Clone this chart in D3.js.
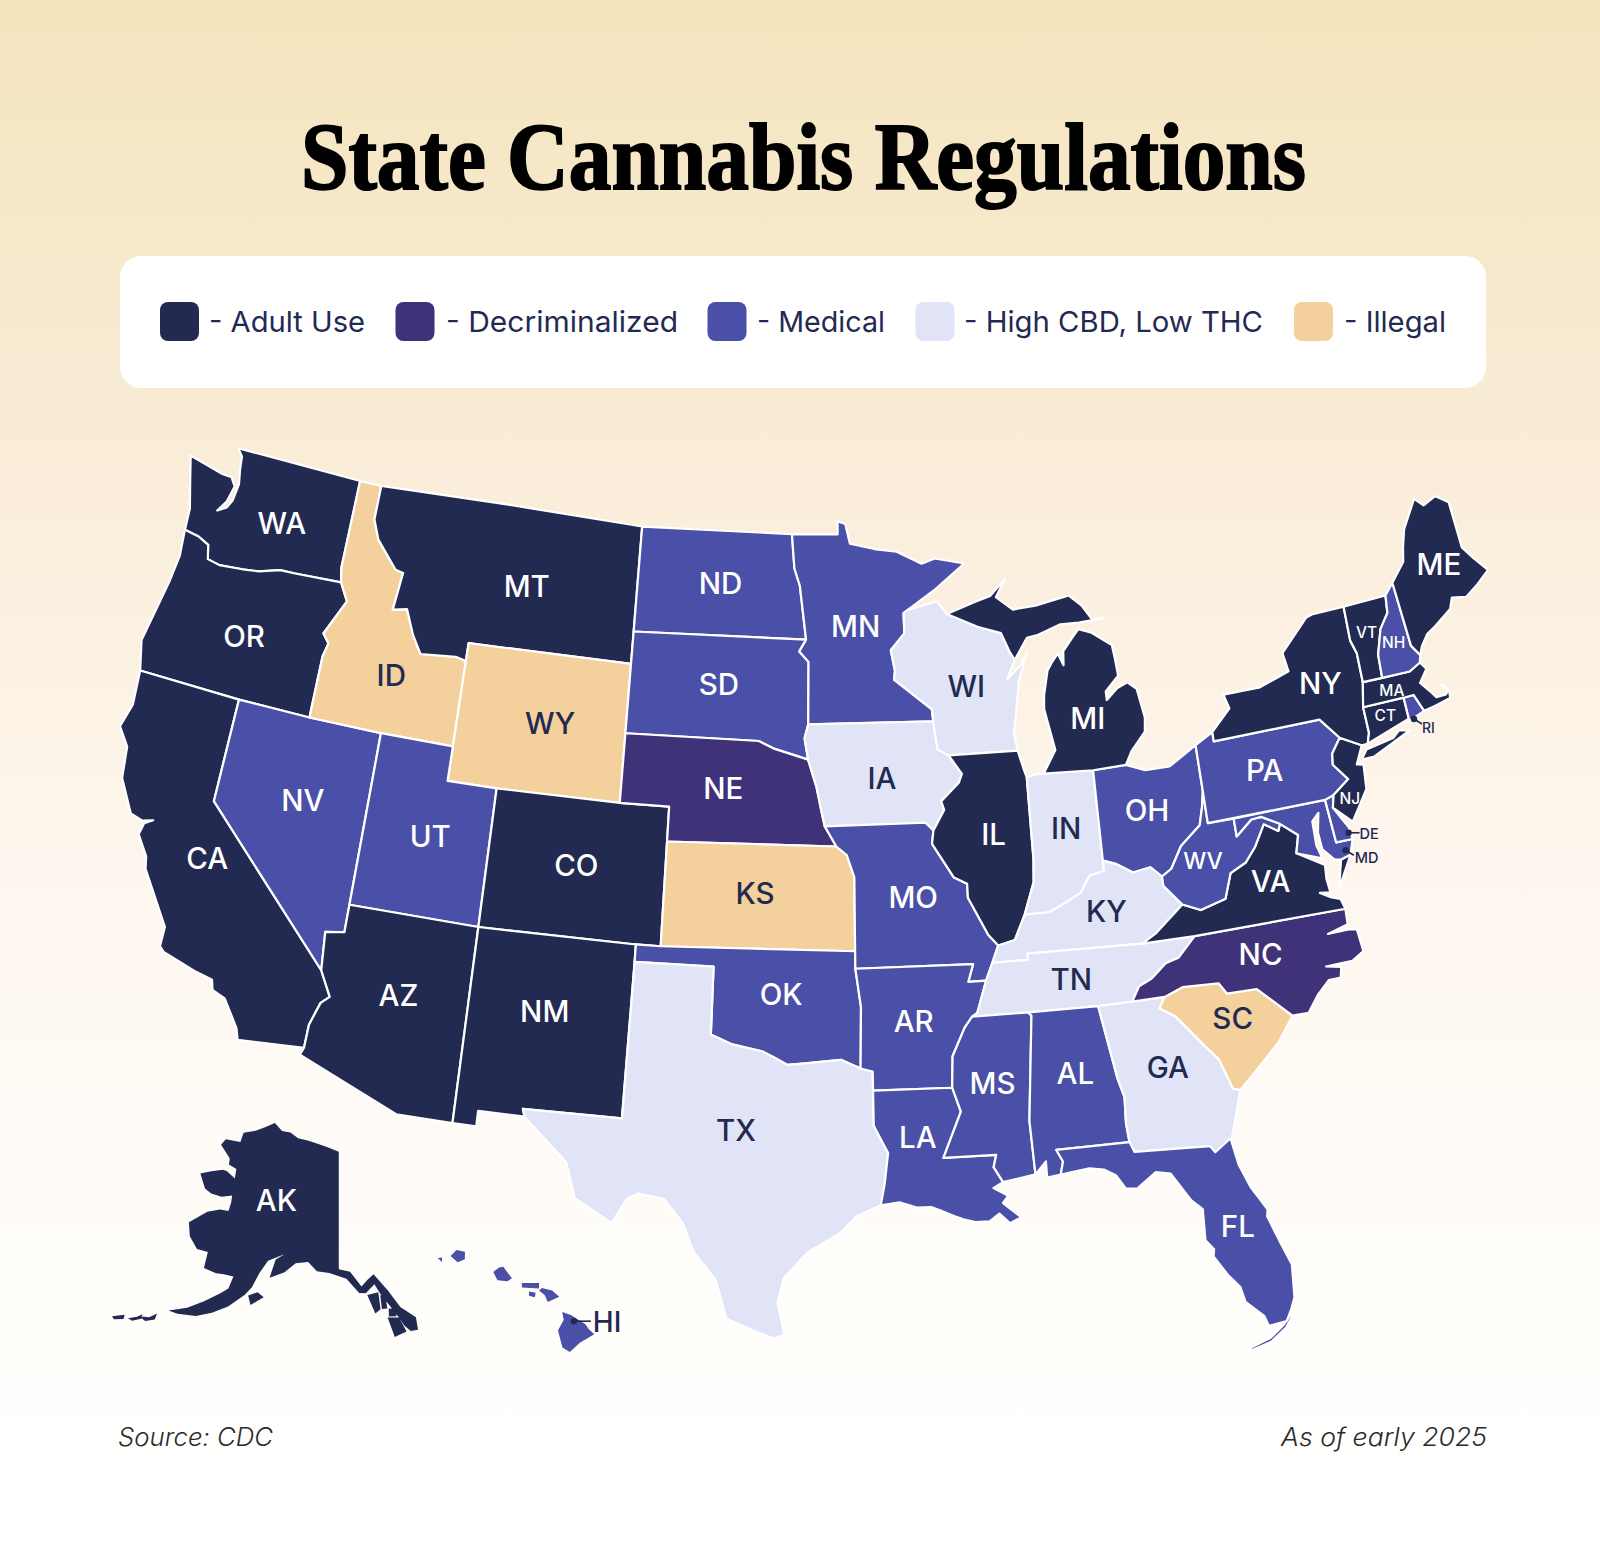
<!DOCTYPE html>
<html>
<head>
<meta charset="utf-8">
<script src="https://cdn.jsdelivr.net/npm/d3@7"></script>
<style>
	html, body { margin: 0; padding: 0; background: #fff; }
	svg { display: block; }
</style>
</head>
<body>
<svg id="chart"></svg>
<script>
var width = 1600,
	height = 1553;

// legend
const categories = ["Adult Use", "Decriminalized", "Medical", "High CBD, Low THC", "Illegal"];
const categoryColors = ["#222a52", "#3f3278", "#4a4fa8", "#e0e4f6", "#f4d09c"];

// state -> category index
const stateCodes = ["WA","OR","CA","NV","ID","MT","WY","UT","AZ","CO","NM","ND","SD","NE","KS","OK","TX","MN","IA","MO","AR","LA","WI","IL","IN","OH","MI","KY","TN","MS","AL","GA","FL","SC","NC","VA","WV","MD","DE","PA","NJ","NY","CT","RI","MA","VT","NH","ME","AK","HI"];
const stateCategory = [0,0,0,2,4,0,4,2,0,0,0,2,2,1,4,2,3,2,3,2,2,2,3,0,3,2,0,3,3,2,2,3,2,4,1,0,2,2,2,2,0,0,0,2,0,0,2,0,0,2];

// label anchors, lon/lat
const labelLon = [-120.03,-120.43,-119.73,-116.6,-114.05,-108.9,-107.2,-111.4,-111.65,-105.55,-106.2,-100.38,-100.26,-99.9,-98.5,-97.42,-98.97,-94.4,-93.42,-92.33,-92.48,-92.48,-89.75,-89.03,-86.13,-82.84,-84.78,-84.9,-86.5,-89.7,-86.68,-83.32,-81.64,-80.73,-79.33,-78.48,-80.93,-75.4,-75.15,-77.93,-74.82,-75.0,-72.7,-71.6,-72.2,-72.66,-71.64,-68.95,-152.9,-155.5];
const labelLat = [47.25,43.8,37.38,39.65,43.68,46.88,43.06,39.36,34.7,39.09,34.85,47.5,44.58,41.62,38.65,35.78,31.83,46.32,41.94,38.49,34.96,31.62,44.44,40.17,40.14,40.36,43.2,37.65,35.82,33.05,33.13,33.0,28.15,34.09,35.75,37.75,38.69,38.18,38.65,40.9,39.6,43.02,41.65,41.35,42.3,44.1,43.64,45.42,65.3,19.95];

// outlines, one list of rings per state
const outlineWA = [[[-117.03,49],[-122.76,49],[-122.5,48.8],[-122.42,48.4],[-122.3,48],[-122.38,47.5],[-122.55,47.25],[-122.92,47.08],[-122.62,47.42],[-122.46,47.9],[-122.7,48.13],[-123.2,48.15],[-124.73,48.38],[-124.4,47.6],[-124.1,46.9],[-124.05,46.27],[-123.4,46.2],[-122.9,46.05],[-122.75,45.65],[-122.2,45.58],[-121.2,45.65],[-120.5,45.72],[-119.6,45.92],[-119,45.93],[-116.92,46],[-117.04,46.42]]];
const outlineOR = [[[-124.05,46.27],[-123.95,45.5],[-124.07,44.7],[-124.5,42.85],[-124.2,42],[-120,42],[-117.03,42],[-117.03,43.8],[-116.9,44.2],[-117.2,44.45],[-116.5,45.5],[-116.92,46],[-119,45.93],[-119.6,45.92],[-120.5,45.72],[-121.2,45.65],[-122.2,45.58],[-122.75,45.65],[-122.9,46.05],[-123.4,46.2]]];
const outlineCA = [[[-124.2,42],[-120,42],[-120,39],[-114.63,35],[-114.14,34.3],[-114.43,34.08],[-114.7,33.4],[-114.72,32.72],[-117.12,32.53],[-117.25,32.85],[-117.9,33.6],[-118.4,33.75],[-118.5,34.03],[-119.2,34.15],[-120.47,34.45],[-120.65,34.58],[-120.65,35.15],[-121.9,36.6],[-122,36.95],[-122.5,37.5],[-122.4,37.85],[-122.1,38],[-122.5,37.9],[-123,38],[-123.7,38.9],[-123.85,39.8],[-124.35,40.3],[-124.1,41]]];
const outlineNV = [[[-120,42],[-117.03,42],[-114.04,42],[-114.04,37],[-114.04,36.2],[-114.75,36.1],[-114.63,35],[-120,39]]];
const outlineID = [[[-117.04,49],[-116.05,49],[-116.05,48],[-115.7,47.45],[-114.7,46.7],[-114.35,46.65],[-114.5,45.55],[-113.9,45.65],[-113.45,44.95],[-113,44.45],[-111.5,44.55],[-111.05,44.48],[-111.05,42],[-114.04,42],[-117.03,42],[-117.03,43.8],[-116.9,44.2],[-117.2,44.45],[-116.5,45.5],[-116.92,46],[-117.04,46.42]]];
const outlineMT = [[[-116.05,49],[-104.05,49],[-104.05,45.94],[-104.05,45],[-111.05,45],[-111.05,44.48],[-111.5,44.55],[-113,44.45],[-113.45,44.95],[-113.9,45.65],[-114.5,45.55],[-114.35,46.65],[-114.7,46.7],[-115.7,47.45],[-116.05,48]]];
const outlineWY = [[[-111.05,45],[-104.05,45],[-104.05,43],[-104.05,41],[-109.05,41],[-111.05,41]]];
const outlineUT = [[[-114.04,42],[-111.05,42],[-111.05,41],[-109.05,41],[-109.05,37],[-114.04,37]]];
const outlineAZ = [[[-114.72,32.72],[-114.82,32.5],[-111.07,31.33],[-109.05,31.33],[-109.05,37],[-114.04,37],[-114.04,36.2],[-114.75,36.1],[-114.63,35],[-114.14,34.3],[-114.43,34.08],[-114.7,33.4]]];
const outlineCO = [[[-109.05,41],[-104.05,41],[-102.05,41],[-102.05,40],[-102.05,37],[-103,37],[-109.05,37]]];
const outlineNM = [[[-109.05,37],[-103,37],[-103,36.5],[-103.06,32],[-106.62,32],[-106.53,31.78],[-108.2,31.78],[-108.2,31.33],[-109.05,31.33]]];
const outlineND = [[[-104.05,49],[-97.23,49],[-97.1,48],[-96.85,47.5],[-96.56,45.94],[-104.05,45.94]]];
const outlineSD = [[[-104.05,45.94],[-96.56,45.94],[-96.85,45.6],[-96.45,45.3],[-96.45,43.5],[-96.6,43.1],[-96.45,42.49],[-97.9,42.8],[-98.5,43],[-104.05,43]]];
const outlineNE = [[[-104.05,43],[-98.5,43],[-97.9,42.8],[-96.45,42.49],[-96.1,41.7],[-95.9,41],[-95.77,40.58],[-95.31,40],[-102.05,40],[-102.05,41],[-104.05,41]]];
const outlineKS = [[[-102.05,40],[-95.31,40],[-94.9,39.75],[-94.61,39.11],[-94.62,37],[-102.05,37]]];
const outlineOK = [[[-103,37],[-102.05,37],[-94.62,37],[-94.62,36.5],[-94.43,35.4],[-94.48,33.64],[-95.2,33.9],[-96.5,33.8],[-97.15,33.75],[-97.7,33.98],[-98.1,34.13],[-99.2,34.3],[-100,34.56],[-100,36.5],[-103,36.5]]];
const outlineTX = [[[-103,36.5],[-100,36.5],[-100,34.56],[-99.2,34.3],[-98.1,34.13],[-97.7,33.98],[-97.15,33.75],[-96.5,33.8],[-95.2,33.9],[-94.48,33.64],[-94.04,33.55],[-94.04,33],[-94.04,31.99],[-93.55,31.2],[-93.7,30.3],[-93.85,29.7],[-94.7,29.4],[-95.3,28.9],[-96.4,28.35],[-97.2,27.6],[-97.4,26.9],[-97.15,25.96],[-97.5,25.85],[-98.2,26.07],[-99.1,26.4],[-99.5,27.5],[-100.3,28.3],[-100.7,29.1],[-101.4,29.77],[-102.3,29.88],[-102.7,29.7],[-103.15,28.97],[-104.5,29.6],[-104.9,30.6],[-106.53,31.78],[-106.62,32],[-103.06,32]]];
const outlineMN = [[[-97.23,49],[-95.15,49],[-95.15,49.38],[-94.8,49.3],[-94.6,48.72],[-93.5,48.55],[-92.5,48.45],[-91.4,48.07],[-90.8,48.2],[-89.5,48],[-90.9,47.28],[-92.1,46.75],[-92.29,46.66],[-92.29,46.07],[-92.9,45.6],[-92.75,45],[-92.8,44.75],[-91.25,43.85],[-91.22,43.5],[-96.45,43.5],[-96.45,45.3],[-96.85,45.6],[-96.56,45.94],[-96.85,47.5],[-97.1,48]]];
const outlineIA = [[[-96.45,43.5],[-91.22,43.5],[-91.1,42.7],[-90.65,42.5],[-90.15,41.95],[-90.3,41.7],[-91.05,41.2],[-90.95,40.95],[-91.42,40.38],[-91.73,40.61],[-95.77,40.58],[-95.9,41],[-96.1,41.7],[-96.45,42.49],[-96.6,43.1]]];
const outlineMO = [[[-95.77,40.58],[-91.73,40.61],[-91.42,40.38],[-91.5,40],[-90.7,39],[-90.2,38.8],[-90.2,38.4],[-89.5,37.3],[-89.15,36.98],[-89.42,36.5],[-89.7,36],[-90.37,36],[-90.15,36.5],[-94.62,36.5],[-94.62,37],[-94.61,39.11],[-94.9,39.75],[-95.31,40]]];
const outlineAR = [[[-94.62,36.5],[-90.15,36.5],[-90.37,36],[-89.7,36],[-90.1,35.1],[-90.3,35],[-90.6,34.7],[-91.1,33.9],[-91.17,33],[-94.04,33],[-94.04,33.55],[-94.48,33.64],[-94.43,35.4]]];
const outlineLA = [[[-94.04,33],[-91.17,33],[-90.9,32.3],[-91.6,31],[-89.73,31],[-89.85,30.65],[-89.55,30.2],[-89.9,30.05],[-89.4,29.8],[-89.6,29.6],[-89.2,29.3],[-89,29.15],[-89.4,29],[-89.75,29.3],[-90.1,29.1],[-90.6,29.1],[-91,29.2],[-91.3,29.3],[-91.8,29.5],[-92.1,29.6],[-92.6,29.6],[-93.2,29.77],[-93.85,29.7],[-93.7,30.3],[-93.55,31.2],[-94.04,31.99]]];
const outlineWI = [[[-92.29,46.66],[-92.1,46.75],[-90.8,46.95],[-90.4,46.57],[-89.1,46.14],[-88.1,45.9],[-87.8,45.35],[-87.6,45.1],[-88,44.55],[-87.35,44.95],[-87.05,45.28],[-87.5,44.5],[-87.75,43.5],[-87.9,43],[-87.8,42.49],[-90.65,42.5],[-91.1,42.7],[-91.22,43.5],[-91.25,43.85],[-92.8,44.75],[-92.75,45],[-92.9,45.6],[-92.29,46.07]]];
const outlineIL = [[[-90.65,42.5],[-87.8,42.49],[-87.6,41.9],[-87.52,41.7],[-87.53,39.35],[-87.6,38.7],[-88.05,37.8],[-88.5,37.1],[-89.15,36.98],[-89.5,37.3],[-90.2,38.4],[-90.2,38.8],[-90.7,39],[-91.5,40],[-91.42,40.38],[-90.95,40.95],[-91.05,41.2],[-90.3,41.7],[-90.15,41.95]]];
const outlineIN = [[[-87.52,41.7],[-87.2,41.76],[-86.8,41.76],[-84.8,41.7],[-84.82,39.1],[-84.82,38.8],[-85.4,38.72],[-85.8,38.27],[-86.5,38],[-87.1,37.8],[-88.05,37.8],[-87.6,38.7],[-87.53,39.35]]];
const outlineOH = [[[-84.8,41.7],[-83.45,41.73],[-82.7,41.5],[-81.7,41.5],[-80.52,41.98],[-80.52,40.64],[-80.65,40.2],[-80.85,39.7],[-81.7,39.2],[-82.2,38.6],[-82.6,38.42],[-83,38.73],[-83.7,38.65],[-84.3,38.95],[-84.82,39.1]]];
const outlineMI = [
	[[-86.82,41.76],[-84.8,41.7],[-83.45,41.73],[-83.15,42.1],[-82.5,42.6],[-82.42,43],[-82.6,43.85],[-82.95,44.07],[-83.4,43.95],[-83.9,43.65],[-83.9,43.9],[-83.3,44.3],[-83.35,44.85],[-83.4,45.2],[-84.2,45.63],[-84.75,45.78],[-85,45.6],[-85.5,45.2],[-85.55,44.8],[-85.75,45.15],[-86.05,44.9],[-86.25,44.7],[-86.5,44],[-86.55,43.6],[-86.25,42.4]],
	[[-90.4,46.57],[-89.2,46.85],[-88.45,47.0],[-87.75,47.45],[-88.2,46.95],[-87.5,46.55],[-86.5,46.6],[-85,46.78],[-84.5,46.45],[-84.1,46],[-83.6,46],[-84.7,45.97],[-85.5,45.98],[-86.5,45.75],[-87,45.7],[-87.6,45.1],[-87.8,45.35],[-88.1,45.9],[-89.1,46.14]]
];
const outlineKY = [[[-89.42,36.5],[-88.07,36.5],[-88.07,36.68],[-83.68,36.6],[-83.1,36.85],[-81.97,37.54],[-82.6,38.15],[-82.6,38.42],[-83,38.73],[-83.7,38.65],[-84.3,38.95],[-84.82,39.1],[-84.82,38.8],[-85.4,38.72],[-85.8,38.27],[-86.5,38],[-87.1,37.8],[-88.05,37.8],[-88.5,37.1],[-89.15,36.98]]];
const outlineTN = [[[-90.3,35],[-88.2,35],[-85.6,34.98],[-84.32,34.99],[-84,35.4],[-83.5,35.57],[-82.9,35.95],[-82.4,36.05],[-81.68,36.59],[-83.68,36.6],[-88.07,36.68],[-88.07,36.5],[-89.42,36.5],[-89.7,36],[-90.1,35.1]]];
const outlineMS = [[[-91.17,33],[-91.1,33.9],[-90.6,34.7],[-90.3,35],[-88.2,35],[-88.1,34.9],[-88.47,31.9],[-88.4,30.35],[-89.55,30.2],[-89.85,30.65],[-89.73,31],[-91.6,31],[-90.9,32.3]]];
const outlineAL = [[[-88.2,35],[-85.6,34.98],[-85.18,32.87],[-85,32.3],[-85.05,31.55],[-85,31],[-87.6,31],[-87.4,30.65],[-87.52,30.28],[-88,30.23],[-88,30.7],[-88.4,30.35],[-88.47,31.9],[-88.1,34.9]]];
const outlineGA = [[[-85.6,34.98],[-84.32,34.99],[-83.1,35],[-83.35,34.7],[-82.8,34.4],[-81.9,33.45],[-81.45,33],[-81.1,32.1],[-80.85,32.03],[-81.4,30.7],[-82.05,30.37],[-82.2,30.57],[-84.86,30.7],[-85,31],[-85.05,31.55],[-85,32.3],[-85.18,32.87]]];
const outlineFL = [
	[[-87.6,31],[-85,31],[-84.86,30.7],[-82.2,30.57],[-82.05,30.37],[-81.45,30.7],[-81.3,29.9],[-81,29.2],[-80.55,28.5],[-80.6,28.3],[-80.3,27.5],[-80.03,26.8],[-80.12,25.85],[-80.3,25.5],[-80.5,25.2],[-81.1,25.15],[-81.2,25.45],[-81.75,25.95],[-81.85,26.4],[-82.2,26.8],[-82.6,27.4],[-82.55,27.6],[-82.8,27.9],[-82.75,28.8],[-83.1,29.1],[-83.7,29.95],[-84.2,30.05],[-84.9,29.65],[-85.3,29.68],[-85.6,30.1],[-86,30.3],[-86.5,30.38],[-87.52,30.28],[-87.4,30.65]],
	[[-80.3,25.3],[-80.55,25.02],[-81.1,24.68],[-81.8,24.52],[-81.8,24.6],[-81.1,24.8],[-80.6,25.12],[-80.35,25.35]]
];
const outlineSC = [[[-83.35,34.7],[-83.1,35],[-82.4,35.2],[-81.05,35.15],[-80.8,34.82],[-79.68,34.8],[-78.55,33.86],[-79.2,33.2],[-79.9,32.7],[-80.85,32.03],[-81.1,32.1],[-81.45,33],[-81.9,33.45],[-82.8,34.4]]];
const outlineNC = [[[-84.32,34.99],[-83.1,35],[-82.4,35.2],[-81.05,35.15],[-80.8,34.82],[-79.68,34.8],[-78.55,33.86],[-77.95,33.85],[-77.5,34.3],[-77,34.65],[-76.55,34.65],[-76.45,34.95],[-77,35.05],[-76.5,35.05],[-76,35.05],[-75.53,35.25],[-75.6,35.9],[-75.9,35.95],[-76.7,35.95],[-75.9,36.1],[-75.87,36.55],[-81.68,36.59],[-82.4,36.05],[-82.9,35.95],[-83.5,35.57],[-84,35.4]]];
const outlineVA = [
	[[-75.87,36.55],[-81.68,36.59],[-83.68,36.6],[-83.1,36.85],[-81.97,37.54],[-81.3,37.3],[-80.3,37.5],[-79.95,38.2],[-79.3,38.42],[-78.85,38.8],[-78.35,39.4],[-77.83,39.13],[-77.72,39.32],[-77.1,38.9],[-77.3,38.4],[-76.3,37.9],[-76.35,37.5],[-76.3,37.1],[-76.7,37.15],[-76.3,36.95],[-75.97,36.85]],
	[[-75.95,37.15],[-75.25,38.03],[-75.65,37.95]]
];
const outlineWV = [[[-80.52,40.64],[-80.65,40.2],[-80.85,39.7],[-81.7,39.2],[-82.2,38.6],[-82.6,38.42],[-82.6,38.15],[-81.97,37.54],[-81.3,37.3],[-80.3,37.5],[-79.95,38.2],[-79.3,38.42],[-78.85,38.8],[-78.35,39.4],[-77.83,39.13],[-77.72,39.32],[-78.4,39.62],[-78.8,39.6],[-79.48,39.2],[-79.48,39.72],[-80.52,39.72]]];
const outlineMD = [[[-79.48,39.72],[-75.79,39.72],[-75.7,38.46],[-75.05,38.45],[-75.25,38.03],[-75.65,37.95],[-75.9,38],[-76.28,38.35],[-76.32,38.85],[-76.15,39.4],[-76.45,39.2],[-76.48,38.5],[-76.35,38.1],[-77.3,38.4],[-77.1,38.9],[-77.72,39.32],[-78.4,39.62],[-78.8,39.6],[-79.48,39.2]]];
const outlineDE = [[[-75.79,39.72],[-75.42,39.8],[-75.55,39.45],[-75.1,38.8],[-75.05,38.45],[-75.7,38.46]]];
const outlinePA = [[[-80.52,41.98],[-79.76,42.27],[-79.76,42],[-75.35,42],[-74.7,41.36],[-75.13,40.97],[-75.2,40.65],[-74.72,40.15],[-75.42,39.8],[-75.79,39.72],[-80.52,39.72],[-80.52,40.64]]];
const outlineNJ = [[[-74.7,41.36],[-73.9,41],[-74.26,40.5],[-74,40.45],[-74.1,39.75],[-74.9,38.93],[-75.55,39.45],[-75.42,39.8],[-74.72,40.15],[-75.2,40.65],[-75.13,40.97]]];
const outlineNY = [
	[[-79.76,42.27],[-78.9,42.85],[-79.05,43.27],[-77.5,43.27],[-76.2,43.55],[-76.3,44.1],[-75,44.95],[-74.7,45],[-73.35,45],[-73.4,44],[-73.25,43.6],[-73.28,42.75],[-73.5,42.05],[-73.5,41.3],[-73.65,41],[-73.9,41],[-74.7,41.36],[-75.35,42],[-79.76,42]],
	[[-74.03,40.6],[-73.75,40.85],[-72.6,40.98],[-72.3,41.15],[-71.87,41.07],[-73.5,40.6]]
];
const outlineCT = [[[-73.5,42.05],[-71.8,42.02],[-71.8,41.4],[-73.65,41],[-73.5,41.3]]];
const outlineRI = [[[-71.8,42.02],[-71.38,42.02],[-71.12,41.5],[-71.85,41.32],[-71.8,41.4]]];
const outlineMA = [[[-73.5,42.05],[-73.28,42.75],[-72.46,42.73],[-71.3,42.7],[-70.8,42.87],[-70.6,42.65],[-71,42.3],[-70.65,41.95],[-70.5,41.78],[-70.1,41.78],[-70,41.85],[-70.05,42.05],[-70.22,42.08],[-69.93,41.85],[-69.97,41.65],[-70.65,41.55],[-71.12,41.5],[-71.38,42.02],[-71.8,42.02]]];
const outlineVT = [[[-73.35,45],[-71.5,45],[-71.6,44.5],[-72.05,44.1],[-72.4,43.4],[-72.46,42.73],[-73.28,42.75],[-73.25,43.6],[-73.4,44]]];
const outlineNH = [[[-71.5,45],[-71.08,45.3],[-70.98,43.4],[-70.7,43.07],[-70.8,42.87],[-71.3,42.7],[-72.46,42.73],[-72.4,43.4],[-72.05,44.1],[-71.6,44.5]]];
const outlineME = [[[-71.08,45.3],[-70.4,45.8],[-70.25,46.2],[-70,46.7],[-69.23,47.46],[-68.9,47.2],[-68.3,47.36],[-67.8,47.07],[-67.8,45.7],[-67.45,45.3],[-67,44.85],[-67.6,44.55],[-68.2,44.3],[-68.8,44.4],[-69,44.1],[-69.8,43.75],[-70.2,43.6],[-70.55,43.3],[-70.7,43.07],[-70.98,43.4]]];
const outlineAK = [
	[[-141,69.65],[-144,70.05],[-148,70.4],[-150.5,70.5],[-152.5,70.85],[-154.5,70.85],[-156.6,71.35],[-158.5,70.85],[-160.5,70.35],[-163,69.9],[-163,69.1],[-166.2,68.9],[-166.7,68.35],[-164,67.6],[-163.7,67.1],[-162,66.95],[-161.7,66.2],[-163.7,66.55],[-164.5,66.55],[-166.5,66.1],[-168.3,65.6],[-166.4,64.65],[-165,64.45],[-163,64.5],[-161.2,64.85],[-161,64.3],[-161,63.6],[-162.5,63.5],[-164.5,63],[-166.8,61.7],[-165.8,60.7],[-164,59.95],[-162.2,60],[-162,58.7],[-160,58.6],[-158.8,58.7],[-157.3,58.7],[-157.6,57.7],[-158.5,57.2],[-160.5,56.2],[-162.5,55.3],[-164.8,54.6],[-163.5,54.6],[-161,54.9],[-159,55.5],[-157,56.3],[-155,57.5],[-154.2,58.2],[-153.5,59.4],[-152.5,60.5],[-150,61.2],[-151.3,60.7],[-151.8,59.2],[-149.6,59.8],[-148,60.6],[-146,60.8],[-144.5,60.1],[-142.5,60],[-139.8,59.55],[-137.9,58.4],[-136.9,58.35],[-135.5,59],[-134.7,58.2],[-133.5,57.2],[-132.5,56.3],[-131.8,55.5],[-131,55],[-130,55],[-130,56],[-132,57],[-133.5,58.4],[-135.5,59.8],[-136.5,59.4],[-137.5,58.9],[-139.2,60.1],[-141,60.3]],
	[[-154.5,57.5],[-153.2,57.9],[-152.2,57.6],[-153.9,56.8]],
	[[-136.7,58.2],[-135,58.35],[-134.9,57],[-135.7,56.7]],
	[[-134.75,58.1],[-134,58.1],[-133.9,57],[-134.7,57]],
	[[-133.7,57],[-132.7,56.9],[-132.7,56.3],[-133.8,56.35]],
	[[-134,56.3],[-132.4,56.2],[-131.6,55],[-133.3,54.7]],
	[[-168.2,53.3],[-166.9,53.55],[-166.1,54.05],[-166.1,53.55],[-167.2,53.15]],
	[[-169.4,52.8],[-168.4,53.2],[-167.9,53.55],[-167.8,53.2],[-168.8,52.75]],
	[[-171.4,52.4],[-170,52.95],[-169.9,52.6],[-171,52.25]]
];
const outlineHI = [
	[[-155.9,20.25],[-155.6,20.15],[-155.1,19.85],[-155,19.7],[-154.8,19.52],[-155.3,19.25],[-155.65,18.95],[-155.9,19.1],[-156.05,19.65],[-155.85,20]],
	[[-156.7,20.95],[-156.6,21.03],[-156.25,20.95],[-156,20.75],[-156.4,20.58],[-156.5,20.8]],
	[[-157.3,21.2],[-156.7,21.2],[-156.7,21.02],[-157.3,21.05]],
	[[-157.05,20.92],[-156.82,20.88],[-156.85,20.73],[-157.05,20.78]],
	[[-158.3,21.55],[-158.1,21.7],[-157.95,21.72],[-157.65,21.35],[-157.8,21.25],[-158.15,21.28]],
	[[-159.8,22.05],[-159.6,22.25],[-159.3,22.2],[-159.3,21.95],[-159.55,21.85]],
	[[-160.25,21.98],[-160.1,22],[-160.1,21.85]]
];

const stateOutlines = [outlineWA,outlineOR,outlineCA,outlineNV,outlineID,outlineMT,outlineWY,outlineUT,outlineAZ,outlineCO,outlineNM,outlineND,outlineSD,outlineNE,outlineKS,outlineOK,outlineTX,outlineMN,outlineIA,outlineMO,outlineAR,outlineLA,outlineWI,outlineIL,outlineIN,outlineOH,outlineMI,outlineKY,outlineTN,outlineMS,outlineAL,outlineGA,outlineFL,outlineSC,outlineNC,outlineVA,outlineWV,outlineMD,outlineDE,outlinePA,outlineNJ,outlineNY,outlineCT,outlineRI,outlineMA,outlineVT,outlineNH,outlineME,outlineAK,outlineHI];

var dark = "#222a52",
	sansFont = "Inter, 'Open Sans', sans-serif";

var svg = d3.select("#chart").attr("width", width).attr("height", height);

// page background
var defs = svg.append("defs");
var grad = defs.append("linearGradient").attr("id", "bg").attr("x1", 0).attr("y1", 0).attr("x2", 0).attr("y2", 1);
[[0, "#f4e4bd"], [0.27, "#f9ecd6"], [0.55, "#fef6ee"], [0.85, "#fffefb"], [1, "#ffffff"]].forEach(([o, c]) =>
	grad.append("stop").attr("offset", o).attr("stop-color", c)
);
svg.append("rect").attr("width", width).attr("height", height).attr("fill", "url(#bg)");

// title, squeezed to get the condensed display look
svg.append("text")
	.attr("x", 803.5)
	.attr("y", 189)
	.attr("text-anchor", "middle")
	.attr("font-family", "'Liberation Serif', serif")
	.attr("font-weight", 700)
	.attr("font-size", 96)
	.attr("stroke", "#000")
	.attr("stroke-width", 2)
	.attr("textLength", 1005)
	.attr("lengthAdjust", "spacingAndGlyphs")
	.text("State Cannabis Regulations");

// legend
svg.append("rect").attr("x", 120).attr("y", 256).attr("width", 1366).attr("height", 132).attr("rx", 21).attr("fill", "#fff");

var swatchX = [160, 395.5, 707.5, 915.5, 1294],
	legendTextX = [209, 446, 757, 964, 1344],
	legendTextW = [156, 232, 128, 299, 102];

var legend = svg.selectAll("g.legend").data(categories).enter().append("g").attr("class", "legend");
legend.append("rect")
	.attr("x", (d, i) => swatchX[i])
	.attr("y", 302)
	.attr("width", 39)
	.attr("height", 39)
	.attr("rx", 8)
	.attr("fill", (d, i) => categoryColors[i]);
legend.append("text")
	.attr("x", (d, i) => legendTextX[i])
	.attr("y", 332)
	.attr("font-family", sansFont)
	.attr("font-size", 29)
	.attr("fill", dark)
	.attr("textLength", (d, i) => legendTextW[i])
	.attr("lengthAdjust", "spacingAndGlyphs")
	.text((d) => "- " + d);

// map
const features = stateCodes.map((code, i) => {
	let rings = stateOutlines[i].map((ring) => {
		let closed = ring.concat([ring[0]]);
		// d3 wants the small side inside, flip rings that wind the wrong way
		return d3.geoArea({ type: "Polygon", coordinates: [closed] }) > 2 * Math.PI ? closed.reverse() : closed;
	});
	return { type: "Feature", id: code, geometry: { type: "MultiPolygon", coordinates: rings.map((r) => [r]) } };
});

const byId = (id) => features.find((f) => f.id === id);
const lower48 = { type: "FeatureCollection", features: features.filter((f) => f.id !== "AK" && f.id !== "HI") };

// the original art is a bit taller than plain albers
var stretchY = 1.0466,
	shiftY = -44.1;

var albers = d3.geoAlbers().fitExtent([[120, 451], [1488, 1352]], lower48);
var stretch = d3.geoTransform({
	point(x, y) {
		this.stream.point(x, y * stretchY + shiftY);
	},
});
var lowerProjection = {
	stream: (s) => albers.stream(stretch.stream(s)),
};

var akProjection = d3.geoConicEqualArea().parallels([55, 65]).rotate([141, 0]).fitExtent([[112, 1116], [418, 1344]], byId("AK"));
var hiProjection = d3.geoConicEqualArea().parallels([19, 22]).rotate([157, 0]).fitExtent([[437, 1250], [595, 1352]], byId("HI"));

const pathFor = (id) => d3.geoPath(id === "AK" ? akProjection : id === "HI" ? hiProjection : lowerProjection);
const locate = (id, lon, lat) => {
	if (id === "AK") return akProjection([lon, lat]);
	if (id === "HI") return hiProjection([lon, lat]);
	let [x, y] = albers([lon, lat]);
	return [x, y * stretchY + shiftY];
};

svg.append("g")
	.selectAll("path")
	.data(features)
	.enter()
	.append("path")
	.attr("d", (d) => pathFor(d.id)(d))
	.attr("fill", (d, i) => categoryColors[stateCategory[i]])
	.attr("stroke", (d) => (d.id === "AK" || d.id === "HI" ? "none" : "#fff"))
	.attr("stroke-width", 2.2)
	.attr("stroke-linejoin", "round");

// labels
const smallLabels = ["VT", "NH", "MA", "CT", "NJ"];
// leader line end and text position relative to the dot
const callouts = {
	DE: { line: [11, 0], text: [11, 6], size: 14.5 },
	MD: { line: [8, 5], text: [9, 13], size: 14.5 },
	RI: { line: [8, 5], text: [8, 14], size: 14 },
	HI: { line: [17, 0], text: [19, 11], size: 28 },
};

var labels = svg.append("g").attr("font-family", sansFont).attr("text-anchor", "middle");
stateCodes.forEach((code, i) => {
	let [x, y] = locate(code, labelLon[i], labelLat[i]);
	let cat = stateCategory[i];
	let c = callouts[code];
	if (c) {
		svg.append("circle").attr("cx", x).attr("cy", y).attr("r", 3.2).attr("fill", dark);
		svg.append("line")
			.attr("x1", x).attr("y1", y)
			.attr("x2", x + c.line[0]).attr("y2", y + c.line[1])
			.attr("stroke", dark)
			.attr("stroke-width", 1.6);
		svg.append("text")
			.attr("x", x + c.text[0])
			.attr("y", y + c.text[1])
			.attr("font-family", sansFont)
			.attr("font-size", c.size)
			.attr("font-weight", 500)
			.attr("fill", dark)
			.text(code);
		return;
	}
	let small = smallLabels.includes(code);
	labels.append("text")
		.attr("x", x)
		.attr("y", y)
		.attr("dy", "0.36em")
		.attr("font-size", small ? 15.5 : code === "WV" ? 23 : 29.5)
		.attr("font-weight", 500)
		.attr("fill", cat === 3 || cat === 4 ? dark : "#fff")
		.text(code);
});

// footer
var footer = svg.append("g").attr("font-family", sansFont).attr("font-style", "italic").attr("font-size", 25).attr("fill", "#2b2b2b").attr("font-weight", 300);
footer.append("text").attr("x", 118).attr("y", 1446).attr("textLength", 155).attr("lengthAdjust", "spacingAndGlyphs").text("Source: CDC");
footer.append("text").attr("x", 1281).attr("y", 1446).attr("textLength", 206).attr("lengthAdjust", "spacingAndGlyphs").text("As of early 2025");
</script>
</body>
</html>
